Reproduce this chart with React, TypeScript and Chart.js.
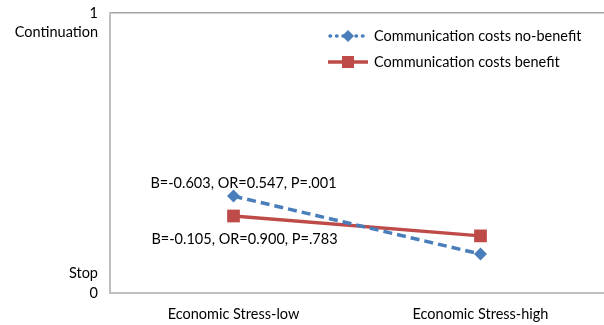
import React, { useEffect, useRef } from 'react';
import { Chart, registerables } from 'chart.js';
Chart.register(...registerables);

const categories = ['Economic Stress-low', 'Economic Stress-high'];
const seriesNames = ['Communication costs no-benefit', 'Communication costs benefit'];
const noBenefit = [0.346, 0.139];
const benefit = [0.275, 0.204];
const yMin = 0;
const yMax = 1;
const yTickLabels: Record<number, string[]> = {
  1: ['', '1', 'Continuation'],
  0: ['Stop', '0', ''],
};
const annotations = ['B=-0.603, OR=0.547, P=.001', 'B=-0.105, OR=0.900, P=.783'];

const BLUE = '#4a7ebb';
const RED = '#be4b48';
const FONT = 'Lato, "Open Sans", sans-serif';
const FS = 14.5;

export default function App() {
  const ref = useRef<HTMLCanvasElement | null>(null);
  useEffect(() => {
    if (!ref.current) return;
    const overlay = {
      id: 'overlay',
      afterDatasetsDraw(chart: any) {
        const { ctx, chartArea } = chart;
        const xs = chart.scales.x;
        const ys = chart.scales.y;
        ctx.save();
        ctx.font = `${FS}px ${FONT}`;
        ctx.fillStyle = '#000';
        ctx.textAlign = 'center';
        ctx.textBaseline = 'middle';
        ctx.fillText(annotations[0], xs.getPixelForValue(0) + 10, ys.getPixelForValue(noBenefit[0]) - 13);
        ctx.fillText(annotations[1], xs.getPixelForValue(0) + 11, ys.getPixelForValue(benefit[0]) + 23);
        // legend
        const lx0 = chartArea.right - 276;
        const lx1 = chartArea.right - 236;
        const ly = [chartArea.top + 23, chartArea.top + 49];
        ctx.textAlign = 'left';
        ctx.strokeStyle = BLUE;
        ctx.lineWidth = 3.5;
        ctx.lineCap = 'round';
        ctx.setLineDash([0.5, 6]);
        ctx.beginPath();
        ctx.moveTo(lx0 + 2, ly[0]);
        ctx.lineTo(lx1, ly[0]);
        ctx.stroke();
        ctx.setLineDash([]);
        ctx.fillStyle = BLUE;
        const mx = (lx0 + lx1) / 2;
        ctx.beginPath();
        ctx.moveTo(mx, ly[0] - 6);
        ctx.lineTo(mx + 6, ly[0]);
        ctx.lineTo(mx, ly[0] + 6);
        ctx.lineTo(mx - 6, ly[0]);
        ctx.closePath();
        ctx.fill();
        ctx.strokeStyle = RED;
        ctx.lineCap = 'butt';
        ctx.lineWidth = 3.5;
        ctx.beginPath();
        ctx.moveTo(lx0, ly[1]);
        ctx.lineTo(lx1, ly[1]);
        ctx.stroke();
        ctx.fillStyle = RED;
        ctx.fillRect(mx - 6, ly[1] - 6, 12, 12);
        ctx.fillStyle = '#000';
        ctx.fillText(seriesNames[0], lx1 + 6, ly[0]);
        ctx.fillText(seriesNames[1], lx1 + 6, ly[1]);
        ctx.restore();
      },
    };
    const chart = new Chart(ref.current, {
      type: 'line',
      data: {
        labels: categories,
        datasets: [
          {
            label: seriesNames[0],
            data: noBenefit,
            borderColor: BLUE,
            backgroundColor: BLUE,
            borderWidth: 3.5,
            borderDash: [9, 5],
            pointStyle: 'rectRot',
            pointRadius: 6.5,
            pointBorderWidth: 0,
            tension: 0,
          },
          {
            label: seriesNames[1],
            data: benefit,
            borderColor: RED,
            backgroundColor: RED,
            borderWidth: 3.5,
            pointStyle: 'rect',
            pointRadius: 9,
            pointBorderWidth: 0,
            tension: 0,
          },
        ],
      },
      options: {
        animation: false,
        responsive: false,
        maintainAspectRatio: false,
        layout: { autoPadding: false, padding: { top: 13, right: 0, left: 0, bottom: 0 } },
        plugins: { legend: { display: false }, tooltip: { enabled: false } },
        scales: {
          x: {
            offset: true,
            grid: { display: false, drawTicks: false },
            border: { display: true, color: '#bfbfbf', width: 2 },
            ticks: { color: '#000', font: { family: FONT, size: FS }, padding: 13, maxRotation: 0 },
            afterFit: (s: any) => { s.height = 32; s.paddingLeft = 0; s.paddingRight = 0; },
          },
          y: {
            min: yMin,
            max: yMax,
            grid: {
              drawTicks: false,
              color: (c: any) => (c.tick && c.tick.value === 1 ? '#a6a6a6' : 'rgba(0,0,0,0)'),
              lineWidth: 1.5,
            },
            border: { display: true, color: '#bfbfbf', width: 2 },
            ticks: {
              stepSize: 1,
              color: '#000',
              padding: 12,
              font: { family: FONT, size: FS, lineHeight: 1.35 },
              callback: (v: any) => yTickLabels[v as number] ?? '',
            },
            afterFit: (s: any) => { s.width = 110; s.paddingTop = 0; s.paddingBottom = 0; },
          },
        },
      },
      plugins: [overlay],
    });
    return () => chart.destroy();
  }, []);
  return (
    <div style={{ position: 'fixed', left: 0, top: 0, width: 604, height: 325, background: '#fff' }}>
      <canvas ref={ref} width={604} height={325} style={{ width: 604, height: 325 }} />
    </div>
  );
}
